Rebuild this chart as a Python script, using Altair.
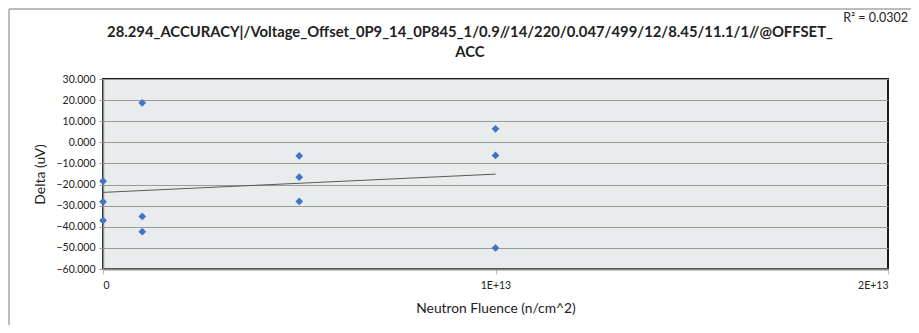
import altair as alt
import pandas as pd

fluence = [0, 0, 0, 1e12, 1e12, 1e12, 5e12, 5e12, 5e12, 1e13, 1e13, 1e13]
delta = [-18.4, -28.2, -37.0, 18.7, -35.1, -42.3, -6.4, -16.5, -28.0, 6.4, -6.2, -50.0]
x_ticks = [0, 1e13, 2e13]
y_ticks = [-60, -50, -40, -30, -20, -10, 0, 10, 20, 30]
title_lines = ["28.294_ACCURACY|/Voltage_Offset_0P9_14_0P845_1/0.9//14/220/0.047/499/12/8.45/11.1/1//@OFFSET_", "ACC"]
r2_text = "R\u00b2 = 0.0302"

df = pd.DataFrame({"x": fluence, "y": delta})
FONT = "Lato"

base = alt.Chart(df)

xenc = alt.X("x:Q", scale=alt.Scale(domain=[0, 2e13], nice=False),
             axis=alt.Axis(values=x_ticks, title="Neutron Fluence (n/cm^2)",
                           labelExpr="datum.value == 0 ? '0' : (datum.value/1e13) + 'E+13'",
                           grid=False, domainColor="#8C8C8C", domainWidth=2,
                           tickColor="#BFBFBF", tickSize=5, labelPadding=6,
                           labelFont=FONT, titleFont=FONT,
                           labelFontSize=10.5, titleFontSize=13.8, titleFontWeight="normal",
                           titlePadding=11, labelColor="#222", titleColor="#222"))
yenc = alt.Y("y:Q", scale=alt.Scale(domain=[-60, 30], nice=False),
             axis=alt.Axis(values=y_ticks, format=".3f", title="Delta (uV)",
                           gridColor="#9A9A9A", gridWidth=1.2, labelOverlap=False,
                           domainColor="#8C8C8C", domainWidth=1.5,
                           tickColor="#9A9A9A", tickSize=4, labelPadding=4,
                           labelFont=FONT, titleFont=FONT,
                           labelFontSize=10.5, titleFontSize=14, titleFontWeight="normal",
                           titlePadding=8, labelColor="#222", titleColor="#222"))

points = base.mark_point(shape="diamond", filled=True, size=60, color="#4472C4", opacity=1).encode(x=xenc, y=yenc)

trend = base.transform_regression("x", "y", extent=[0, 1e13]).mark_line(
    color="#595959", strokeWidth=1).encode(x=xenc, y=yenc)

r2 = alt.Chart(alt.Data(values=[{"t": r2_text}])).mark_text(
    align="right", baseline="middle", font=FONT, fontSize=12.5, color="#222").encode(
    x=alt.value(805), y=alt.value(-61), text="t:N")

titles = alt.Chart(alt.Data(values=[{"t": title_lines[0], "dy": -46},
                                    {"t": title_lines[1], "dy": -26}])).mark_text(
    align="center", baseline="middle", font=FONT, fontSize=14.8, fontWeight="bold",
    color="#222").encode(x=alt.value(367), y=alt.Y("dy:Q", scale=None), text="t:N")

one = alt.Data(values=[{"a": 1}])
border_left = alt.Chart(one).mark_rule(stroke="#A6A6A6", strokeWidth=1.5).encode(
    x=alt.value(-94), y=alt.value(-70), y2=alt.value(265))
border_top = alt.Chart(one).mark_rule(stroke="#A6A6A6", strokeWidth=1.5).encode(
    x=alt.value(-94), x2=alt.value(830), y=alt.value(-70))

chart = alt.layer(border_left, border_top, trend, points, r2, titles).properties(
    width=785, height=190,
    background="white",
    autosize=alt.AutoSizeParams(type="none"),
    padding={"left": 95, "top": 71, "right": 23, "bottom": 56},
).configure_view(fill="#E8ECEC", stroke="#1A1A1A", strokeWidth=2)

chart.save("out.html", embed_options={"renderer": "svg", "actions": False})
